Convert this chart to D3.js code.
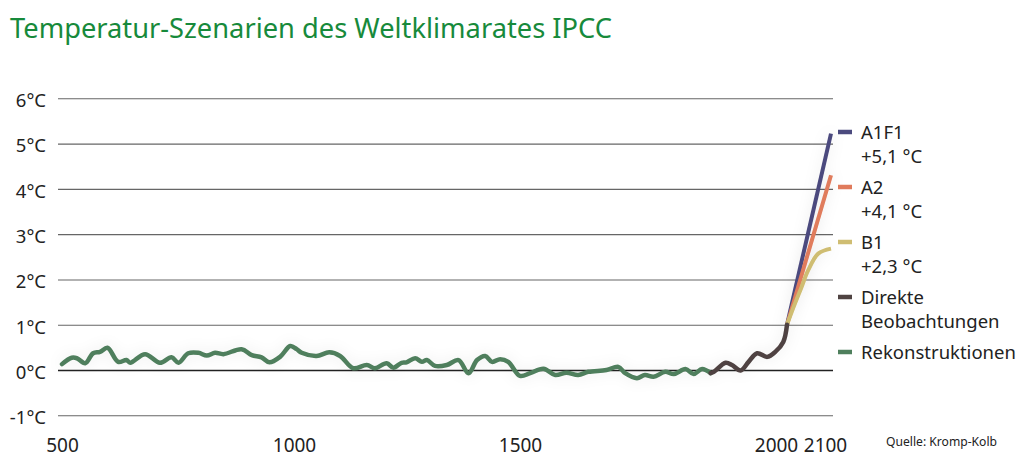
<!DOCTYPE html>
<html>
<head>
<meta charset="utf-8">
<script src="https://cdn.jsdelivr.net/npm/d3@7"></script>
<style>
  body { margin: 0; background: #fff; }
  text { font-family: "Noto Sans", sans-serif; }
</style>
</head>
<body>
<div id="container"></div>
<script>
// Rekonstruktionen (Abweichung in °C)
const reconYears = [500, 521, 532, 550, 567, 582, 598, 621, 639, 647, 679, 711, 736, 751, 772, 794, 812, 830, 848, 887, 909, 930, 947, 970, 992, 1006, 1017, 1050, 1078, 1102, 1131, 1161, 1179, 1205, 1220, 1238, 1249, 1268, 1283, 1294, 1312, 1338, 1364, 1386, 1405, 1423, 1438, 1456, 1474, 1500, 1519, 1544, 1566, 1587, 1609, 1628, 1662, 1684, 1697, 1719, 1734, 1750, 1772, 1788, 1810, 1825, 1841, 1857];
const reconTemps = [0.13, 0.27, 0.26, 0.15, 0.37, 0.40, 0.49, 0.18, 0.22, 0.16, 0.35, 0.16, 0.28, 0.16, 0.37, 0.38, 0.32, 0.38, 0.35, 0.46, 0.33, 0.28, 0.17, 0.29, 0.53, 0.46, 0.38, 0.31, 0.39, 0.31, 0.04, 0.11, 0.04, 0.15, 0.05, 0.16, 0.17, 0.26, 0.18, 0.22, 0.09, 0.11, 0.22, -0.07, 0.22, 0.31, 0.18, 0.24, 0.18, -0.13, -0.07, 0.03, -0.11, -0.06, -0.11, -0.04, 0.00, 0.07, -0.07, -0.18, -0.11, -0.15, -0.04, -0.09, 0.02, -0.09, 0.02, -0.07];

// Direkte Beobachtungen
const obsYears = [1857, 1863, 1885, 1897, 1913, 1928, 1944, 1963, 1978, 1993, 2000];
const obsTemps = [-0.07, -0.04, 0.16, 0.11, -0.01, 0.18, 0.37, 0.29, 0.40, 0.62, 1.0];

// Szenarien
const scenarioNames = ["A1F1", "A2", "B1"];
const scenarioLabels = ["+5,1 °C", "+4,1 °C", "+2,3 °C"];
const scenarioYears = [[2000, 2100], [2000, 2100], [2000, 2015, 2033, 2048, 2071, 2100]];
const scenarioTemps = [[1.0, 5.22], [1.0, 4.3], [1.0, 1.39, 1.83, 2.2, 2.57, 2.68]];
const scenarioColors = ["#4b4a7e", "#e07b5c", "#cfbd72"];

const yTicks = [-1, 0, 1, 2, 3, 4, 5, 6];
const xTicks = [500, 1000, 1500, 2000, 2100];
const xTickShift = [0, 0, 0, -11, -6];

const width = 1024;
const height = 461;

const x = d3.scaleLinear([500, 1000, 1500, 2000, 2100], [62, 294, 520, 787, 831]);
const y = d3.scaleLinear([-1, 6], [415.3, 98.3]);

const svg = d3.create("svg")
  .attr("width", width)
  .attr("height", height);

const defs = svg.append("defs");
const f = defs.append("filter").attr("id", "glow")
  .attr("x", "-20%").attr("y", "-50%").attr("width", "140%").attr("height", "200%");
f.append("feGaussianBlur").attr("in", "SourceAlpha").attr("stdDeviation", 7).attr("result", "b");
f.append("feFlood").attr("flood-color", "#000").attr("flood-opacity", 0.09).attr("result", "c");
f.append("feComposite").attr("in", "c").attr("in2", "b").attr("operator", "in").attr("result", "s");
const fm = f.append("feMerge");
fm.append("feMergeNode").attr("in", "s");
fm.append("feMergeNode").attr("in", "SourceGraphic");

// title
svg.append("text")
  .attr("x", 10)
  .attr("y", 38)
  .attr("fill", "#178a3b")
  .attr("font-size", 27)
  .attr("textLength", 602)
  .attr("lengthAdjust", "spacingAndGlyphs")
  .text("Temperatur-Szenarien des Weltklimarates IPCC");

// y grid + labels
const gy = svg.append("g")
  .attr("transform", "translate(58,0)")
  .call(d3.axisLeft(y).tickValues(yTicks).tickSize(-(833 - 58)).tickPadding(12).tickFormat(d => d + "°C"));
gy.select(".domain").remove();
gy.selectAll(".tick line")
  .attr("stroke", d => d === 0 ? "#222" : "#666")
  .attr("stroke-width", d => d === 0 ? 1.6 : 1.1);
gy.selectAll(".tick text")
  .attr("fill", "#222")
  .attr("font-size", 18.5)
  .attr("font-family", "Noto Sans")
  .attr("dy", "0.45em");

// x labels
const gx = svg.append("g")
  .attr("transform", "translate(0,435)")
  .call(d3.axisBottom(x).tickValues(xTicks).tickSize(0).tickPadding(0).tickFormat(d3.format("d")));
gx.select(".domain").remove();
gx.selectAll(".tick text")
  .attr("fill", "#222")
  .attr("font-size", 19)
  .attr("font-family", "Noto Sans")
  .attr("y", 17)
  .attr("dy", 0)
  .attr("dx", (d, i) => xTickShift[i]);

const lines = svg.append("g").attr("filter", "url(#glow)");

const smooth = d3.line().x(d => x(d[0])).y(d => y(d[1])).curve(d3.curveCatmullRom.alpha(0.5));

lines.append("path")
  .attr("fill", "none")
  .attr("stroke", "#4f7f5d")
  .attr("stroke-width", 4.5)
  .attr("stroke-linejoin", "round")
  .attr("stroke-linecap", "round")
  .attr("d", smooth(d3.zip(reconYears, reconTemps)));

scenarioNames.forEach((n, i) => {
  lines.append("path")
    .attr("fill", "none")
    .attr("stroke", scenarioColors[i])
    .attr("stroke-width", 4)
    .attr("stroke-linejoin", "round")
    .attr("d", smooth(d3.zip(scenarioYears[i], scenarioTemps[i])));
});

lines.append("path")
  .attr("fill", "none")
  .attr("stroke", "#4f4342")
  .attr("stroke-width", 4.5)
  .attr("stroke-linejoin", "round")
  .attr("stroke-linecap", "round")
  .attr("d", smooth(d3.zip(obsYears, obsTemps)));

// legend
const legend = [
  {name: "A1F1", sub: scenarioLabels[0], color: scenarioColors[0]},
  {name: "A2", sub: scenarioLabels[1], color: scenarioColors[1]},
  {name: "B1", sub: scenarioLabels[2], color: scenarioColors[2]},
  {name: "Direkte", sub: "Beobachtungen", color: "#4f4342"},
  {name: "Rekonstruktionen", sub: null, color: "#4f7f5d"}
];
const lg = svg.append("g").attr("transform", "translate(838,132)");
legend.forEach((d, i) => {
  const g = lg.append("g").attr("transform", `translate(0,${i * 55})`);
  g.append("line").attr("x1", 0).attr("x2", 14).attr("stroke", d.color).attr("stroke-width", 4.5);
  const t = g.append("text").attr("x", 23).attr("y", 7).attr("fill", "#222").attr("font-size", 18.5);
  t.append("tspan").attr("x", 23).text(d.name);
  if (d.sub) t.append("tspan").attr("x", 23).attr("dy", 23.5).text(d.sub);
});

svg.append("text")
  .attr("x", 886)
  .attr("y", 446)
  .attr("fill", "#222")
  .attr("font-size", 12)
  .attr("textLength", 111)
  .attr("lengthAdjust", "spacingAndGlyphs")
  .text("Quelle: Kromp-Kolb");

document.getElementById("container").append(svg.node());
</script>
</body>
</html>
